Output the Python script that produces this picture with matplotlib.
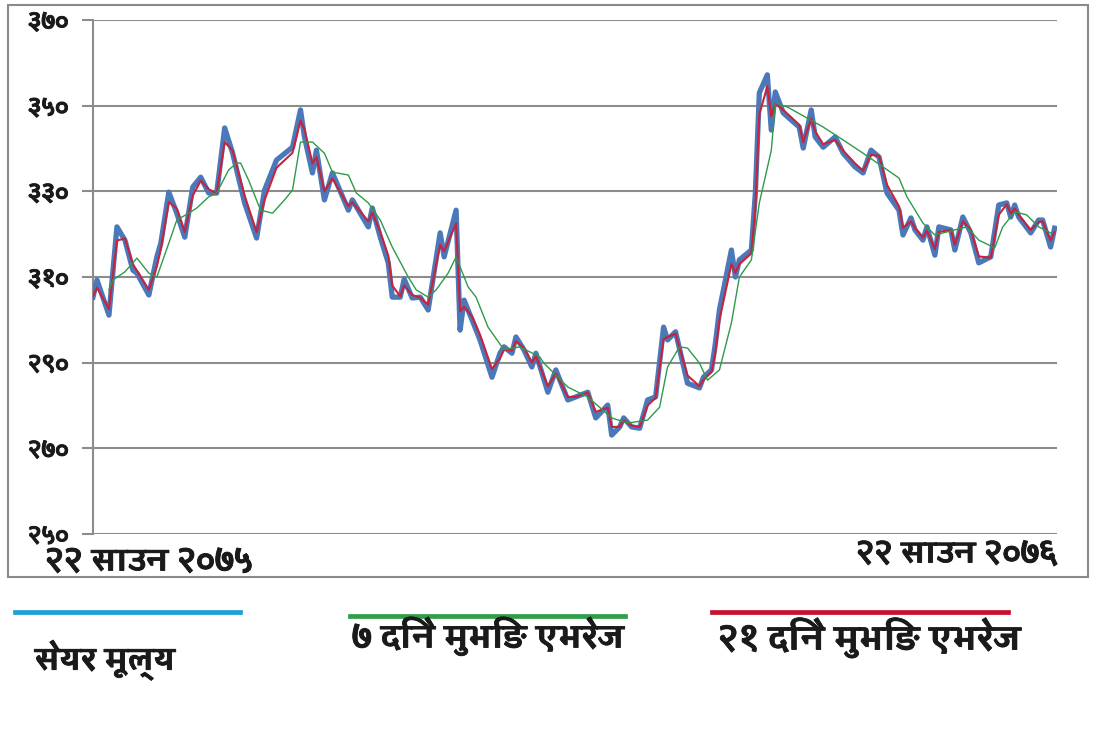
import matplotlib
matplotlib.use("Agg")
import matplotlib.pyplot as plt
from matplotlib import font_manager as fm
from matplotlib.patches import Rectangle
from matplotlib.lines import Line2D
import matplotlib.patheffects as pe

# ---------------- data ----------------
y_ticks = [250, 270, 290, 310, 330, 350, 370]
y_tick_labels = ["२५०", "२७०", "२९०", "३१०", "३३०", "३५०", "३७०"]
start_label = "२२ साउन २०७५"
end_label = "२२ साउन २०७६"
series_names = ["सेयर मूल्य", "७ दिने मुभिङ एभरेज", "२१ दिने मुभिङ एभरेज"]

price_day = [0, 1, 4, 6, 8, 10, 11, 14, 16, 17, 19, 21, 23, 25, 27, 29, 31, 33, 35, 38,
             41, 43, 46, 50, 52, 53, 55, 56, 58, 60, 64, 65, 69, 70, 72, 74, 75, 77, 78, 80,
             82, 84, 87, 88, 91, 92, 93, 95, 97, 100, 102, 103, 105, 106, 108, 110, 111, 114, 116, 119,
             121, 124, 126, 129, 130, 132, 133, 135, 137, 139, 141, 143, 144, 146, 149, 152, 153, 155, 156, 157,
             160, 161, 162, 165, 166, 167, 169, 170, 171, 173, 177, 178, 180, 181, 183, 186, 188, 191, 193, 195,
             197, 199, 202, 203, 205, 206, 208, 209, 211, 212, 215, 216, 218, 220, 222, 225, 227, 229, 230, 231,
             232, 235, 237, 238, 240, 241]

price = [305.3, 309.3, 301.1, 321.7, 318.6, 311.6, 310.9, 305.8, 314.7, 317.9, 329.8, 324.9, 319.3, 331.0, 333.3, 329.6, 329.6, 344.8, 338.9, 327.3,
         319.1, 330.3, 337.3, 340.3, 349.0, 342.7, 334.3, 339.6, 328.0, 334.3, 325.6, 328.0, 321.7, 326.1, 319.3, 313.3, 305.3, 305.3, 309.5, 305.1,
         305.3, 302.3, 320.3, 314.7, 325.6, 297.6, 304.6, 300.0, 295.3, 286.6, 292.2, 293.7, 292.2, 296.0, 293.0, 289.0, 292.2, 283.1, 288.3, 281.3,
         282.0, 283.1, 277.1, 280.1, 273.1, 275.0, 277.1, 275.0, 274.7, 281.3, 282.0, 298.3, 295.3, 297.2, 285.2, 284.1, 286.6, 288.3, 294.6, 302.3,
         316.3, 310.0, 314.0, 316.3, 329.6, 353.0, 357.2, 344.3, 353.2, 348.3, 345.0, 340.1, 349.0, 342.7, 340.3, 342.7, 338.9, 335.7, 334.3, 339.6,
         338.0, 329.6, 325.6, 319.8, 323.8, 321.0, 318.6, 321.7, 315.1, 321.7, 321.0, 316.3, 324.0, 320.3, 313.3, 314.7, 326.8, 327.3, 324.0, 326.8,
         324.0, 320.3, 323.3, 323.3, 317.0, 321.4]

ma21 = [305.5, 307.5, 302.5, 318.5, 319.0, 313.0, 311.5, 307.0, 312.5, 316.5, 327.5, 326.0, 320.5, 329.0, 332.5, 330.5, 329.5, 341.5, 339.5, 329.0,
        320.5, 328.0, 335.5, 339.0, 346.5, 344.5, 336.5, 338.0, 330.0, 333.0, 326.5, 327.5, 323.0, 325.0, 320.5, 315.0, 308.0, 305.5, 308.0, 305.8,
        305.2, 303.5, 317.5, 316.0, 322.5, 302.0, 303.0, 300.8, 296.5, 288.5, 291.0, 293.0, 292.8, 295.0, 293.5, 290.0, 291.5, 284.5, 287.5, 282.0,
        282.0, 283.0, 278.5, 279.5, 275.0, 275.0, 276.5, 275.3, 275.0, 280.0, 281.8, 295.5, 296.0, 296.8, 287.0, 284.5, 286.0, 287.8, 292.5, 300.0,
        313.0, 311.0, 313.0, 315.5, 326.0, 348.0, 354.5, 347.5, 350.5, 349.0, 345.5, 341.5, 347.0, 344.0, 341.0, 342.0, 339.5, 336.5, 334.8, 338.5,
        338.3, 331.5, 326.5, 321.5, 323.0, 321.5, 319.2, 320.8, 316.5, 320.5, 321.0, 317.5, 323.0, 321.0, 314.8, 314.5, 324.5, 327.0, 324.8, 326.0,
        324.5, 321.0, 322.8, 323.0, 318.5, 320.5]

ma7_day = [4, 5, 8, 11, 14, 16, 19, 21, 24, 26, 29, 31, 34, 36, 37, 39, 42, 45, 48, 50,
           52, 55, 58, 60, 64, 66, 69, 72, 75, 79, 81, 84, 86, 89, 91, 94, 96, 99, 103, 107,
           112, 113, 119, 124, 130, 134, 139, 142, 144, 147, 149, 152, 154, 157, 160, 162, 165, 167, 170, 171,
           174, 179, 183, 188, 193, 198, 202, 204, 208, 211, 216, 219, 222, 226, 228, 231, 234, 237, 240]
ma7 = [307.0, 309.3, 311.2, 314.4, 310.9, 310.0, 317.9, 323.3, 324.9, 326.1, 328.7, 329.6, 335.0, 336.6, 336.6, 332.6, 325.6, 324.9, 328.0, 330.3,
       341.5, 341.5, 338.9, 334.5, 333.8, 329.6, 327.3, 323.3, 317.0, 310.0, 307.0, 305.3, 307.0, 310.9, 314.7, 307.7, 305.3, 298.3, 293.0, 293.7,
       291.3, 289.9, 284.3, 282.0, 277.1, 275.9, 276.6, 279.6, 289.0, 293.7, 293.4, 289.9, 285.9, 288.3, 299.3, 310.0, 314.0, 327.3, 339.6, 350.6,
       349.7, 347.1, 345.0, 342.0, 338.9, 335.7, 333.1, 328.7, 322.6, 319.8, 321.0, 321.7, 318.6, 316.8, 321.7, 325.2, 324.5, 321.7, 320.3]

# ---------------- fonts ----------------
cands = {}
try:
    from fontTools.ttLib import TTFont
    for f in fm.fontManager.ttflist:
        try:
            tt = TTFont(f.fname, fontNumber=0, lazy=True)
            cmap = tt.getBestCmap()
            if cmap and 0x0938 in cmap and 0x0966 in cmap:
                w = f.weight if isinstance(f.weight, int) else (700 if "bold" in str(f.weight).lower() else 400)
                cands.setdefault(f.name, set()).add(w)
        except Exception:
            pass
except Exception:
    pass
deva_family = None
has_bold = False
if cands:
    bold_fams = [n for n, ws in cands.items() if max(ws) >= 600]
    if bold_fams:
        deva_family = sorted(bold_fams)[0]
        has_bold = True
    else:
        deva_family = sorted(cands)[0]
families = [deva_family, "DejaVu Sans"] if deva_family else ["DejaVu Sans"]
plt.rcParams["font.family"] = families

txt_fx = [pe.withStroke(linewidth=0.6, foreground="#1a1a1a")] if has_bold else \
         [pe.withStroke(linewidth=1.1, foreground="#1a1a1a")]

# ---------------- figure ----------------
W, H = 1100, 741
fig = plt.figure(figsize=(W / 100, H / 100), dpi=100)
fig.patch.set_facecolor("white")


def fx(x):
    return x / W


def fy(y):
    return 1 - y / H


# outer frame
fig.patches.append(Rectangle((fx(8), fy(577)), fx(1088) - fx(8), fy(5) - fy(577),
                             transform=fig.transFigure, fill=False,
                             edgecolor="#8a8a8a", linewidth=1.5, zorder=0))

ax = fig.add_axes([fx(93), fy(534), fx(1057) - fx(93), fy(20) - fy(534)])
ax.set_facecolor("white")

ax.plot(price_day, price, color="#4a78b8", linewidth=3.8, solid_joinstyle="round", zorder=3)
ax.plot(price_day, ma21, color="#c8223c", linewidth=1.5, zorder=4)
ax.plot(ma7_day, ma7, color="#2e9a4a", linewidth=1.0, zorder=5)

ax.set_ylim(250, 370)
ax.set_xlim(0, 241.6)
ax.set_yticks(y_ticks)
ax.set_yticklabels(y_tick_labels, fontsize=16.5, fontweight="bold", color="#1a1a1a")
for t in ax.get_yticklabels():
    t.set_path_effects(txt_fx)
ax.set_xticks([])
ax.yaxis.grid(True, color="#8c8c8c", linewidth=1.5)
ax.set_axisbelow(True)
ax.tick_params(axis="y", length=8, width=1.5, color="#8c8c8c", pad=9.5)
for s in ["top", "right", "bottom"]:
    ax.spines[s].set_visible(False)
ax.spines["left"].set_color("#8c8c8c")
ax.spines["left"].set_linewidth(1.5)

# date labels
fig.text(fx(45), fy(562), start_label, fontsize=22.9, fontweight="bold",
         color="#1a1a1a", ha="left", va="center", path_effects=txt_fx)
fig.text(fx(1058), fy(554), end_label, fontsize=22.2, fontweight="bold",
         color="#1a1a1a", ha="right", va="center", path_effects=txt_fx)

# legend
leg_colors = ["#1d9fd8", "#2e9e48", "#c8102e"]
leg_lines = [(15, 240, 612), (350, 625, 616), (712, 1008, 612)]
for (x0, x1, yy), c in zip(leg_lines, leg_colors):
    fig.add_artist(Line2D([fx(x0), fx(x1)], [fy(yy), fy(yy)], transform=fig.transFigure,
                          color=c, linewidth=3.4))
leg_text_pos = [(35, 660, 23.0), (352, 636, 23.8), (718, 638, 24.7)]
for (x0, yy, fs), name in zip(leg_text_pos, series_names):
    fig.text(fx(x0), fy(yy), name, fontsize=fs, fontweight="bold", color="#1a1a1a",
             ha="left", va="center", path_effects=txt_fx)

fig.savefig("out.png", dpi=100, facecolor="white")
